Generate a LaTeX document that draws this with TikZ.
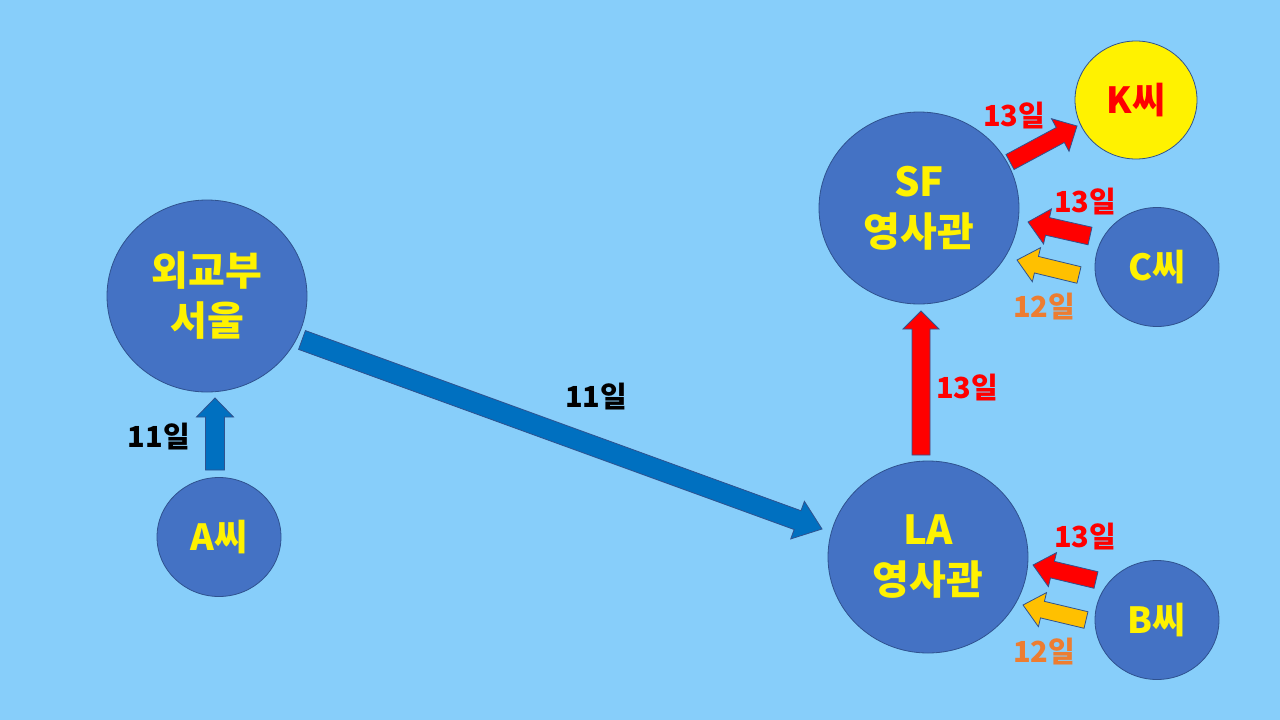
\documentclass[tikz,border=0pt]{standalone}
\usepackage{fontspec}
\setmainfont{Noto Sans CJK KR}
\usetikzlibrary{calc, shapes.geometric}
\definecolor{SKYbg}{HTML}{87CEFA}
\definecolor{OFFblue}{HTML}{4472C4}
\definecolor{OFFline}{HTML}{2F528F}
\definecolor{ARblue}{HTML}{0070C0}
\definecolor{ARred}{HTML}{FF0000}
\definecolor{ARgold}{HTML}{FFC000}
\definecolor{TXorange}{HTML}{ED7D31}
\newcommand{\bigfont}{\fontsize{40}{50}\selectfont\bfseries}
\newcommand{\namefont}{\fontsize{36}{44}\selectfont\bfseries}
\newcommand{\dayfont}{\fontsize{29}{34}\selectfont\bfseries}
% block arrow: fill, tail, tip, half shaft, half head, head length
\newcommand{\blockarrow}[6]{%
  \coordinate (ba-h) at ($(#3)!#6!(#2)$);
  \filldraw[fill=#1, draw=OFFline, line width=0.8pt, line join=miter]
    ($(#2)!#4!90:(#3)$) -- ($(ba-h)!#4!90:(#3)$) -- ($(ba-h)!#5!90:(#3)$)
    -- (#3) -- ($(ba-h)!#5!-90:(#3)$) -- ($(ba-h)!#4!-90:(#3)$)
    -- ($(#2)!#4!-90:(#3)$) -- cycle;}

\begin{document}
\begin{tikzpicture}[x=1pt, y=-1pt,
    office/.style={ellipse, fill=OFFblue, draw=OFFline, line width=0.8pt,
      inner sep=0pt, minimum width=200pt, minimum height=192pt,
      text=yellow, font=\bigfont, align=center},
    person/.style={office, minimum width=124pt, minimum height=119pt,
      font=\namefont},
    day/.style={font=\dayfont, inner sep=0pt}]
  \fill[SKYbg] (0,0) rectangle (1280,720);
  % offices
  \node[office] (seoul) at (207,296) {외교부\\서울};
  \node[office] (la) at (928,557) {LA\\영사관};
  \node[office] (sf) at (919,208) {SF\\영사관};
  % people
  \node[person] (pa) at (219,537) {A씨};
  \node[person, fill=yellow, text=ARred, minimum width=122pt,
        minimum height=118pt] (pk) at (1136,100) {K씨};
  \node[person] (pc) at (1157,267) {C씨};
  \node[person] (pb) at (1157,620) {B씨};
  % arrow ends
  \coordinate (a-t) at (215,470);   \coordinate (a-p) at (215,398);
  \coordinate (s-t) at (302,340);   \coordinate (s-p) at (822,529);
  \coordinate (l-t) at (921,455);   \coordinate (l-p) at (921,311);
  \coordinate (k-t) at (1010,162);  \coordinate (k-p) at (1077,126);
  \coordinate (c1-t) at (1090,236); \coordinate (c1-p) at (1028,222);
  \coordinate (c2-t) at (1079,275); \coordinate (c2-p) at (1017,260);
  \coordinate (b1-t) at (1096,580); \coordinate (b1-p) at (1033,565);
  \coordinate (b2-t) at (1086,620); \coordinate (b2-p) at (1023,605);
  % connectors
  \blockarrow{ARblue}{a-t}{a-p}{9.5pt}{18.5pt}{19pt}
  \blockarrow{ARblue}{s-t}{s-p}{10pt}{20pt}{26pt}
  \blockarrow{ARred}{l-t}{l-p}{9pt}{18pt}{18pt}
  \blockarrow{ARred}{k-t}{k-p}{8.5pt}{18.5pt}{19pt}
  \blockarrow{ARred}{c1-t}{c1-p}{9pt}{18pt}{20pt}
  \blockarrow{ARgold}{c2-t}{c2-p}{8.5pt}{17.5pt}{20pt}
  \blockarrow{ARred}{b1-t}{b1-p}{8.5pt}{17.5pt}{20pt}
  \blockarrow{ARgold}{b2-t}{b2-p}{8.5pt}{17.5pt}{20pt}
  % day labels
  \node[day] (d-a) at (159,437) {11일};
  \node[day] (d-s) at (596,397) {11일};
  \node[day, text=ARred] (d-l) at (967,388) {13일};
  \node[day, text=ARred] (d-k) at (1014,116) {13일};
  \node[day, text=ARred] (d-c1) at (1085,202) {13일};
  \node[day, text=TXorange] (d-c2) at (1044,307) {12일};
  \node[day, text=ARred] (d-b1) at (1085,537) {13일};
  \node[day, text=TXorange] (d-b2) at (1044,652) {12일};
\end{tikzpicture}
\end{document}
